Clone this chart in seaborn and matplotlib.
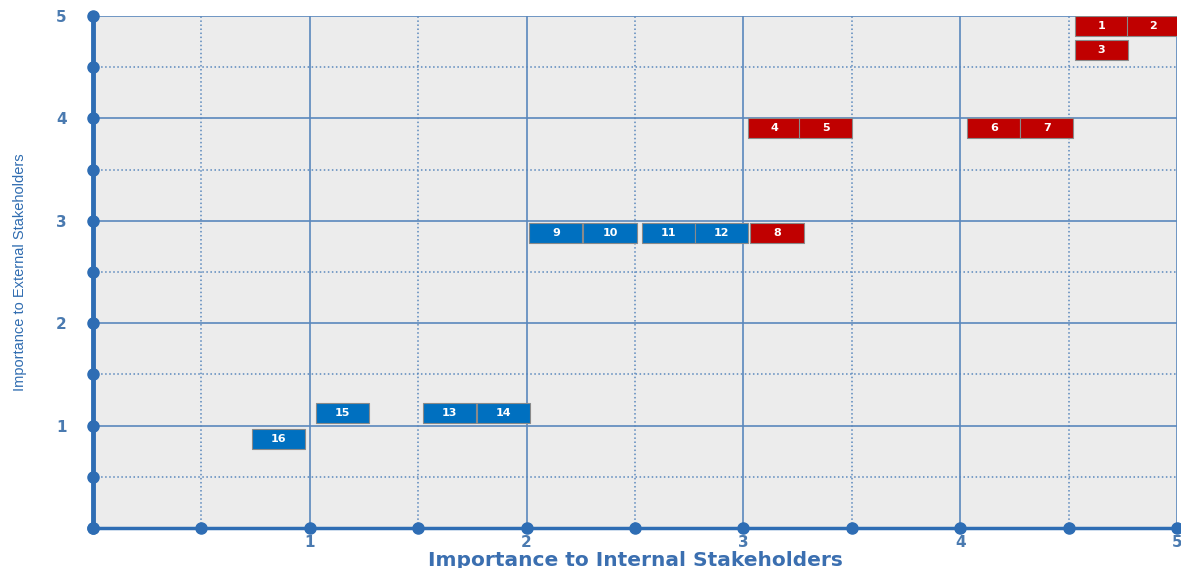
import numpy as np
import matplotlib.pyplot as plt
import seaborn as sns

# Stakeholder materiality matrix
issue_ids = ["1", "2", "3", "4", "5", "6", "7", "8",
             "9", "10", "11", "12", "13", "14", "15", "16"]
internal = [4.65, 4.89, 4.65, 3.145, 3.38, 4.155, 4.40, 3.155,
            2.135, 2.385, 2.655, 2.90, 1.645, 1.895, 1.15, 0.855]
external = [4.90, 4.90, 4.67, 3.91, 3.91, 3.91, 3.91, 2.88,
            2.88, 2.88, 2.88, 2.88, 1.12, 1.12, 1.12, 0.87]
priority = ["high"] * 8 + ["normal"] * 8

tick_vals = [1, 2, 3, 4, 5]
half_vals = np.arange(0, 5.01, 0.5)

palette = {"high": "#c00000", "normal": "#0070c0"}
axis_blue = "#2e6db4"
grid_blue = "#5a88bd"
text_blue = "#4a7ab0"

sns.set_style("white", {"axes.facecolor": "#ececec"})
plt.rcParams["font.family"] = ["DejaVu Sans"]

fig = plt.figure(figsize=(11.81, 5.68), dpi=100)
ax = fig.add_axes([0.0787, 0.0704, 0.9179, 0.9014])

# grid: solid on whole units, dotted on halves
for v in half_vals[1:]:
    ls = "-" if v == int(v) else ":"
    lw = 1.2 if ls == "-" else 1.1
    ax.axvline(v, color=grid_blue, ls=ls, lw=lw, zorder=1)
    ax.axhline(v, color=grid_blue, ls=ls, lw=lw, zorder=1)

# issue boxes
box_w, box_h = 0.245, 0.195
colors = [palette[p] for p in priority]
bottoms = [y - box_h / 2 for y in external]
ax.bar(internal, box_h, bottom=bottoms, width=box_w, color=colors,
       edgecolor="#8a8a8a", linewidth=0.8, zorder=3)
for lab, x, y in zip(issue_ids, internal, external):
    ax.text(x, y, lab, color="white", fontsize=8, fontweight="bold",
            ha="center", va="center", zorder=4)

# axes with dot markers
ax.plot([0, 5], [0, 0], color=axis_blue, lw=2.5, clip_on=False, zorder=5)
ax.plot([0, 0], [0, 5], color=axis_blue, lw=3.5, clip_on=False, zorder=5)
ax.plot(half_vals, np.zeros_like(half_vals), "o", color=axis_blue, ms=8,
        clip_on=False, zorder=6)
ax.plot(np.zeros_like(half_vals), half_vals, "o", color=axis_blue, ms=8,
        clip_on=False, zorder=6)

ax.set_xlim(0, 5)
ax.set_ylim(0, 5)
for s in ax.spines.values():
    s.set_visible(False)
ax.set_xticks(tick_vals)
ax.set_yticks(tick_vals)
ax.set_xticklabels([str(t) for t in tick_vals], color=text_blue,
                   fontweight="bold", fontsize=11)
ax.set_yticklabels([str(t) for t in tick_vals], color=text_blue,
                   fontweight="bold", fontsize=11)
ax.tick_params(axis="x", length=0, pad=5)
ax.tick_params(axis="y", length=0, pad=19)

ax.set_xlabel("Importance to Internal Stakeholders", color="#3b6fb0",
              fontweight="bold", fontsize=14.5)
ax.xaxis.set_label_coords(0.5, -0.044)
ax.set_ylabel("Importance to External Stakeholders", color="#2f6cb0",
              fontsize=10.5, family=["Liberation Sans", "DejaVu Sans"])
ax.yaxis.set_label_coords(-0.061, 0.5)

fig.savefig("out.png", dpi=100)
